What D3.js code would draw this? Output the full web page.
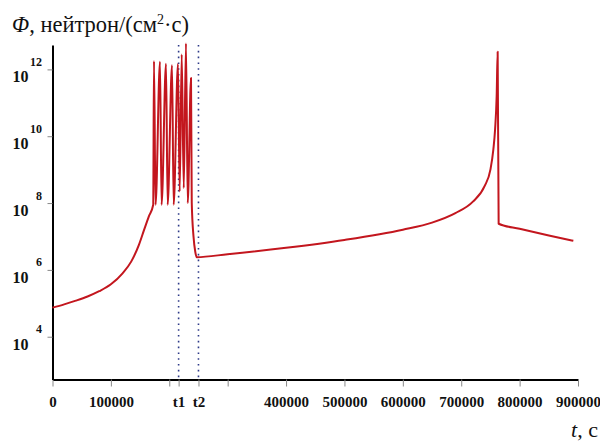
<!DOCTYPE html>
<html>
<head>
<meta charset="utf-8">
<script src="https://cdn.jsdelivr.net/npm/d3@7"></script>
<style>
  body { margin: 0; background: #fff; }
  svg { display: block; }
</style>
</head>
<body>
<svg id="chart" width="600" height="441"></svg>
<script>
var SERIF = "Liberation Serif, Times New Roman, serif";

// time, s
var times = [
  0, 20000, 40000, 60000, 80000, 100000, 120000, 135000, 148000, 157000, 165000, 172500,
  173800, 176500, 184100, 186800, 194400, 197200, 204700, 207500,
  214900, 217800, 221300, 224800, 228600, 231600, 237200, 238500,
  241500, 244500, 247000,
  300000, 400000, 500000, 600000, 650000, 690000, 720000, 740000,
  750000, 755000, 758000, 760700, 762400, 764100, 800000, 850000, 892000
];
// neutron flux, 1/(cm2*s)
var flux = [
  7.4e4, 9.3e4, 1.2e5, 1.6e5, 2.3e5, 3.7e5, 7.9e5, 1.8e6, 5.6e6, 1.6e7, 4.0e7, 8.9e7,
  1.78e12, 8.9e7, 1.7e12, 8.9e7, 1.48e12, 8.9e7, 1.32e12, 8.9e7,
  1.45e12, 2.2e8, 2.8e12, 2.8e8, 6.0e12, 1.0e8, 5.5e11, 1.0e8,
  1.0e7, 3.5e6, 2.4e6,
  2.95e6, 4.6e6, 7.9e6, 1.6e7, 2.6e7, 5.0e7, 1.1e8, 3.2e8,
  1.0e9, 4.0e9, 1.6e10, 1.6e11, 3.4e12, 2.4e7, 1.7e7, 1.07e7, 7.4e6
];

var xTicks = [0, 100000, 200000, 216000, 250000, 300000, 400000, 500000, 600000, 700000, 800000, 900000];
var xTickLabels = ["0", "100000", "", "t1", "t2", "", "400000", "500000", "600000", "700000", "800000", "900000"];
var markers = [216000, 250000]; // t1, t2
var yExp = [4, 6, 8, 10, 12];

var svg = d3.select("#chart");

var x = d3.scaleLinear().domain([0, 900000]).range([52.5, 578]);
var y = d3.scaleLog().domain([Math.pow(10, 2.72), Math.pow(10, 12.73)]).range([379.5, 45]);

// dotted markers
svg.selectAll(".marker")
  .data(markers)
  .enter().append("line")
  .attr("x1", function(d){ return x(d); })
  .attr("x2", function(d){ return x(d); })
  .attr("y1", 45)
  .attr("y2", 379)
  .attr("stroke", "#2e3a88")
  .attr("stroke-width", 1.6)
  .attr("stroke-dasharray", "1.6,4.2");

// x axis
var xAxis = d3.axisBottom(x)
  .tickValues(xTicks)
  .tickFormat(function(d, i){ return xTickLabels[i]; })
  .tickSize(7)
  .tickSizeOuter(0)
  .tickPadding(10);

var gx = svg.append("g")
  .attr("transform", "translate(0," + y.range()[0] + ")")
  .call(xAxis)
  .attr("font-family", SERIF)
  .attr("font-size", 15)
  .attr("font-weight", "bold");
gx.select(".domain").attr("stroke", "#000").attr("stroke-width", 2);
gx.selectAll(".tick line").attr("stroke", "#888").attr("stroke-width", 1);
gx.selectAll(".tick text").attr("fill", "#111");

// y axis
var yAxis = d3.axisLeft(y)
  .tickValues(yExp.map(function(e){ return Math.pow(10, e); }))
  .tickFormat("")
  .tickSize(5)
  .tickSizeOuter(0);

var gy = svg.append("g")
  .attr("transform", "translate(" + x.range()[0] + ",0)")
  .call(yAxis);
gy.select(".domain").attr("stroke", "#000").attr("stroke-width", 2);
gy.selectAll(".tick line").attr("stroke", "#888").attr("stroke-width", 1);

// y tick labels: 10 with superscript exponent
var yl = svg.selectAll(".ylab")
  .data(yExp)
  .enter().append("g")
  .attr("font-family", SERIF)
  .attr("font-weight", "bold")
  .attr("fill", "#111");
yl.append("text")
  .attr("x", 12.5)
  .attr("y", function(d){ return y(Math.pow(10, d)) + 13; })
  .attr("font-size", 16)
  .text("10");
yl.append("text")
  .attr("x", 42)
  .attr("y", function(d){ return y(Math.pow(10, d)) - 3.5; })
  .attr("text-anchor", "end")
  .attr("font-size", 12)
  .text(function(d){ return d; });

// curve
var line = d3.line()
  .x(function(d, i){ return x(times[i]); })
  .y(function(d){ return y(d); })
  .curve(d3.curveMonotoneX);

svg.append("path")
  .datum(flux)
  .attr("d", line)
  .attr("fill", "none")
  .attr("stroke", "#c3161e")
  .attr("stroke-width", 2)
  .attr("stroke-linejoin", "round");

// title
var title = svg.append("text")
  .attr("font-family", SERIF)
  .attr("x", 12)
  .attr("y", 32)
  .attr("font-size", 22.5)
  .attr("fill", "#111");
title.append("tspan").attr("font-style", "italic").text("Φ");
title.append("tspan").text(", нейтрон/(см");
title.append("tspan").attr("font-size", 14).attr("dy", -8).text("2");
title.append("tspan").attr("dy", 8).text("·с)");

// x axis title
var xt = svg.append("text")
  .attr("font-family", SERIF)
  .attr("x", 598)
  .attr("y", 437)
  .attr("text-anchor", "end")
  .attr("font-size", 22)
  .attr("fill", "#111");
xt.append("tspan").attr("font-style", "italic").text("t");
xt.append("tspan").text(", с");
</script>
</body>
</html>
